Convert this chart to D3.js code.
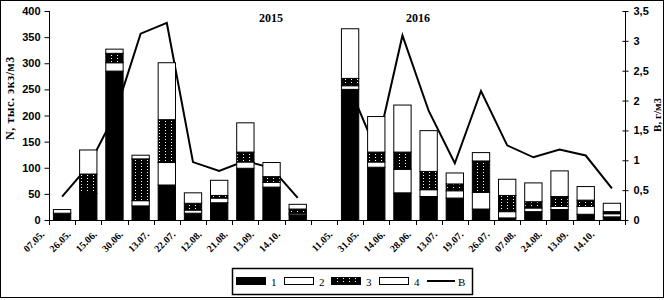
<!DOCTYPE html>
<meta charset="utf-8">
<style>
body { margin: 0; background: #fff; }
svg { font-family: 'Liberation Serif', 'Times New Roman', serif; font-weight: bold; }
.axis path, .axis line { stroke: #000; stroke-width: 1px; }
.axis text { font-size: 11px; fill: #000; }
.xlab { font-size: 10px; }
</style>
<body>
<svg width="665" height="300"></svg>
<script src="https://cdn.jsdelivr.net/npm/d3@7/dist/d3.min.js"></script>
<script>

// dates of sampling, "" is the gap between the two years
var dates = ["07.05.","26.05.","15.06.","30.06.","13.07.","22.07.","12.08.","21.08.","13.09.","14.10.","",
             "11.05.","31.05.","14.06.","28.06.","13.07.","19.07.","26.07.","07.08.","24.08.","13.09.","14.10."];

// N, thousand ind./m3 by group 1..4
var s1 = [13, 51, 285, 27, 67, 13, 33, 99, 63, 10, null, 250, 101, 52, 45, 42, 21, 4, 16, 20, 11, 6];
var s2 = [7, 0, 16, 10, 43, 6, 9, 12, 9, 3, null, 7, 10, 45, 13, 14, 32, 12, 7, 6, 15, 6];
var s3 = [0, 37, 18, 80, 82, 13, 5, 19, 11, 8, null, 14, 19, 33, 35, 13, 60, 31, 12, 19, 12, 4];
var s4 = [0, 46, 8, 7, 109, 20, 29, 56, 27, 9, null, 95, 68, 90, 78, 21, 16, 31, 36, 49, 26, 16];

// B, g/m3
var biomass = [0.39, 0.90, 1.75, 3.12, 3.30, 0.97, 0.82, 0.99, 0.87, 0.37, null,
               2.2, 1.16, 3.09, 1.83, 0.95, 2.16, 1.25, 1.05, 1.18, 1.08, 0.53];

var leftTicks = [0, 50, 100, 150, 200, 250, 300, 350, 400];
var rightTicks = [0, 0.5, 1, 1.5, 2, 2.5, 3, 3.5];
var years = ["2015", "2016"];
var seriesNames = ["1", "2", "3", "4"];

var svg = d3.select("svg");

var defs = svg.append("defs");
var pat = defs.append("pattern")
    .attr("id", "dots")
    .attr("patternUnits", "userSpaceOnUse")
    .attr("width", 6)
    .attr("height", 3);
pat.append("rect").attr("width", 6).attr("height", 3).attr("fill", "#000");
pat.append("rect").attr("x", 3).attr("y", 1).attr("width", 1).attr("height", 1).attr("fill", "#fff");

var fills = ["#000", "#fff", "url(#dots)", "#fff"];

var plotL = 49, plotR = 625, plotT = 11, plotB = 220;

var x = d3.scaleBand()
    .domain(d3.range(dates.length))
    .range([plotL, plotR])
    .paddingInner(0.3)
    .paddingOuter(0.15);

var y = d3.scaleLinear().domain([0, 400]).range([plotB, plotT]);
var y2 = d3.scaleLinear().domain([0, 3.5]).range([plotB, plotT]);

// frame
svg.append("rect")
    .attr("x", 0.5).attr("y", 0.5)
    .attr("width", 663).attr("height", 297)
    .attr("fill", "none").attr("stroke", "#000");

// line B (drawn behind bars)
var line = d3.line()
    .defined(function(d) { return d != null; })
    .x(function(d, i) { return x(i) + x.bandwidth() / 2; })
    .y(function(d) { return y2(d); });

svg.append("path")
    .datum(biomass)
    .attr("d", line)
    .attr("fill", "none")
    .attr("stroke", "#000")
    .attr("stroke-width", 2);

// stacked bars
var rows = dates.map(function(d, i) {
    return { i: i, a: s1[i] || 0, b: s2[i] || 0, c: s3[i] || 0, e: s4[i] || 0 };
}).filter(function(d) { return s1[d.i] != null; });

var stack = d3.stack().keys(["a", "b", "c", "e"]);
var layers = stack(rows);

svg.selectAll("g.layer")
    .data(layers)
    .enter().append("g")
    .attr("class", "layer")
    .attr("fill", function(d, k) { return fills[k]; })
    .selectAll("rect")
    .data(function(d) { return d.filter(function(p) { return p[1] > p[0]; }); })
    .enter().append("rect")
    .attr("x", function(p) { return x(p.data.i) + 0.5; })
    .attr("y", function(p) { return y(p[1]); })
    .attr("width", x.bandwidth() - 1)
    .attr("height", function(p) { return y(p[0]) - y(p[1]); })
    .attr("stroke", "#000")
    .attr("stroke-width", 1);

// x axis with ticks at category borders
var borders = d3.range(dates.length + 1).map(function(k) { return plotL + k * x.step(); });

svg.append("line")
    .attr("x1", plotL).attr("x2", plotR)
    .attr("y1", plotB + 0.5).attr("y2", plotB + 0.5)
    .attr("stroke", "#000");

svg.selectAll("line.xt")
    .data(borders)
    .enter().append("line")
    .attr("class", "xt")
    .attr("x1", function(d) { return Math.round(d) + 0.5; })
    .attr("x2", function(d) { return Math.round(d) + 0.5; })
    .attr("y1", plotB)
    .attr("y2", plotB + 5)
    .attr("stroke", "#000");

svg.selectAll("text.xlab")
    .data(dates)
    .enter().append("text")
    .attr("class", "xlab")
    .attr("text-anchor", "end")
    .attr("transform", function(d, i) {
        return "translate(" + (x(i) + x.bandwidth() / 2 - 17) + "," + (plotB + 15) + ") rotate(-45)";
    })
    .text(function(d) { return d; });

// left axis
svg.append("g")
    .attr("class", "axis")
    .attr("transform", "translate(" + (plotL + 0.5) + ",0)")
    .call(d3.axisLeft(y).tickValues(leftTicks).tickSize(5).tickPadding(4))
    .call(function(g) { g.select(".domain").attr("d", "M0," + plotT + "V" + plotB); });

// right axis
var ra = svg.append("g")
    .attr("class", "axis")
    .attr("transform", "translate(" + (plotR + 0.5) + ",0)")
    .call(d3.axisRight(y2).tickValues(rightTicks).tickSize(3).tickPadding(5)
        .tickFormat(function(d) { return String(d).replace(".", ","); }))
    .call(function(g) { g.select(".domain").attr("d", "M0," + plotT + "V" + plotB); });
ra.selectAll(".tick line").attr("x1", -3);

// axis titles
svg.append("text")
    .attr("transform", "translate(14,98) rotate(-90)")
    .attr("text-anchor", "middle")
    .style("font-size", "12px")
    .style("letter-spacing", "0.6px")
    .text("N, тыс. экз/м3");

svg.append("text")
    .attr("transform", "translate(661,115) rotate(-90)")
    .attr("text-anchor", "middle")
    .style("font-size", "11px")
    .text("B, г/м3");

// year labels
svg.selectAll("text.year")
    .data(years)
    .enter().append("text")
    .attr("class", "year")
    .attr("x", function(d, k) { return k === 0 ? 271 : 418; })
    .attr("y", 22)
    .attr("text-anchor", "middle")
    .style("font-size", "12px")
    .text(function(d) { return d; });

// legend
var lg = svg.append("g").attr("transform", "translate(232,268)");
lg.append("rect")
    .attr("x", 0.5).attr("y", 0.5)
    .attr("width", 240).attr("height", 26)
    .attr("fill", "#fff").attr("stroke", "#000").attr("stroke-width", 1.5);

var legX = [4, 52, 99, 147];
seriesNames.forEach(function(n, k) {
    lg.append("rect")
        .attr("x", legX[k] + 0.5).attr("y", 9.5)
        .attr("width", 29).attr("height", 7)
        .attr("fill", fills[k]).attr("stroke", "#000");
    lg.append("text")
        .attr("x", legX[k] + 35).attr("y", 18)
        .style("font-size", "11px")
        .style("font-weight", "normal")
        .text(n);
});
lg.append("line")
    .attr("x1", 195).attr("x2", 223)
    .attr("y1", 13).attr("y2", 13)
    .attr("stroke", "#000").attr("stroke-width", 2);
lg.append("text")
    .attr("x", 226).attr("y", 18)
    .style("font-size", "11px")
    .style("font-weight", "normal")
    .text("B");

</script>
</body>
